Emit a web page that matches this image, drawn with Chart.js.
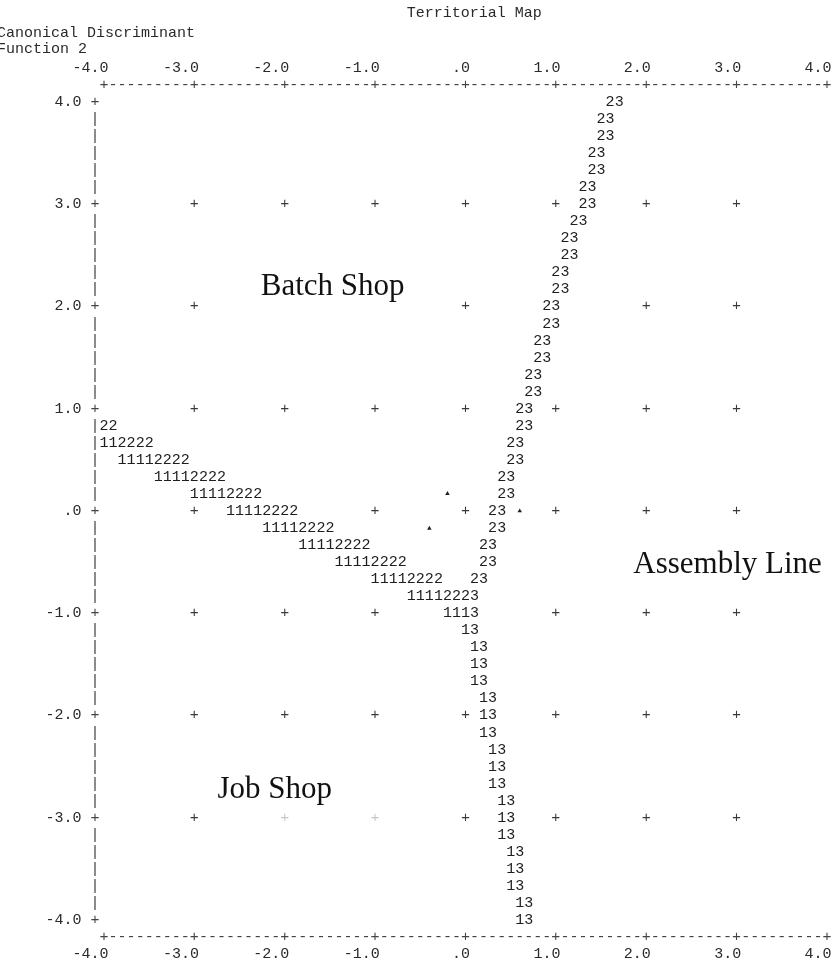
<!DOCTYPE html>
<html><head><meta charset="utf-8">
<script src="https://cdn.jsdelivr.net/npm/chart.js@4/dist/chart.umd.min.js"></script>
<style>html,body{margin:0;padding:0;background:#fff}#wrap{width:833px;height:964px;position:relative}</style>
</head><body><div id="wrap"><canvas id="c" width="833" height="964"></canvas></div>
<script>
const chartTitle = 'Territorial Map';
const yAxisTitle = ['Canonical Discriminant', 'Function 2'];
const xTickValues = [-4, -3, -2, -1, 0, 1, 2, 3, 4];
const xTickLabels = ['-4.0', '-3.0', '-2.0', '-1.0', '.0', '1.0', '2.0', '3.0', '4.0'];
const yTickValues = [4, 3, 2, 1, 0, -1, -2, -3, -4];
const yTickLabels = ['4.0', '3.0', '2.0', '1.0', '.0', '-1.0', '-2.0', '-3.0', '-4.0'];

// boundary group 2 (Batch Shop) / group 3 (Assembly Line): start of "23"
const boundary23 = [
  {x:1.6,y:4.00},{x:1.5,y:3.83},{x:1.5,y:3.67},{x:1.4,y:3.50},{x:1.4,y:3.33},
  {x:1.3,y:3.17},{x:1.3,y:3.00},{x:1.2,y:2.83},{x:1.1,y:2.67},{x:1.1,y:2.50},
  {x:1.0,y:2.33},{x:1.0,y:2.17},{x:0.9,y:2.00},{x:0.9,y:1.83},{x:0.8,y:1.67},
  {x:0.8,y:1.50},{x:0.7,y:1.33},{x:0.7,y:1.17},{x:0.6,y:1.00},{x:0.6,y:0.83},
  {x:0.5,y:0.67},{x:0.5,y:0.50},{x:0.4,y:0.33},{x:0.4,y:0.17},{x:0.3,y:0.00},
  {x:0.3,y:-0.17},{x:0.2,y:-0.33},{x:0.2,y:-0.50},{x:0.1,y:-0.67}
];
// boundary group 1 (Job Shop) / group 2 (Batch Shop): start of "11112222"
const boundary12 = [
  {x:-4.6,y:0.83},{x:-4.2,y:0.67},{x:-3.8,y:0.50},{x:-3.4,y:0.33},{x:-3.0,y:0.17},
  {x:-2.6,y:0.00},{x:-2.2,y:-0.17},{x:-1.8,y:-0.33},{x:-1.4,y:-0.50},{x:-1.0,y:-0.67}
];
// where the three territories meet
const junctionPoints = [{x:-0.6,y:-0.83},{x:-0.2,y:-1.00}];
const junctionCodes = ['11112223', '1113'];
// boundary group 1 (Job Shop) / group 3 (Assembly Line): start of "13"
const boundary13 = [
  {x:0.0,y:-1.17},{x:0.1,y:-1.33},{x:0.1,y:-1.50},{x:0.1,y:-1.67},{x:0.2,y:-1.83},
  {x:0.2,y:-2.00},{x:0.2,y:-2.17},{x:0.3,y:-2.33},{x:0.3,y:-2.50},{x:0.3,y:-2.67},
  {x:0.4,y:-2.83},{x:0.4,y:-3.00},{x:0.4,y:-3.17},{x:0.5,y:-3.33},{x:0.5,y:-3.50},
  {x:0.5,y:-3.67},{x:0.6,y:-3.83},{x:0.6,y:-4.00}
];
// group centroids
const centroids = [{x:-0.2,y:0.17},{x:0.6,y:0.00},{x:-0.4,y:-0.17}];
// territory names
const regionNames = ['Batch Shop', 'Assembly Line', 'Job Shop'];
const regionAnchors = [{x:-1.47,y:2.11},{x:2.90,y:-0.61},{x:-2.11,y:-2.81}];

// ---------- drawing ----------
const MONO = '15px "Liberation Mono", "Courier New", monospace';

const territoryPlugin = {
  id: 'territory',
  afterDatasetsDraw(chart) {
    const {ctx} = chart;
    const xs = chart.scales.x, ys = chart.scales.y;
    const colW = (xs.getPixelForValue(4) - xs.getPixelForValue(-4)) / 80;
    const px = col => xs.getPixelForValue(-4 + col / 10);
    const py = row => ys.getPixelForValue(4 - row / 6);
    const colOf = v => Math.round((v + 4) * 10);
    const rowOf = v => Math.round((4 - v) * 6);
    const occupied = new Set();
    ctx.save();
    ctx.font = MONO;
    ctx.textAlign = 'center';
    ctx.textBaseline = 'middle';

    // boundary strings
    chart.data.datasets.forEach(ds => {
      if (!ds.code && !ds.codes) return;
      ds.data.forEach((p, i) => {
        const s = ds.codes ? ds.codes[i] : ds.code;
        const c0 = colOf(p.x), r = rowOf(p.y);
        for (let k = 0; k < s.length; k++) {
          const c = c0 + k;
          if (c < 0) continue;
          occupied.add(c + ',' + r);
          ctx.fillStyle = '#1e1e1e';
          ctx.fillText(s[k], px(c), py(r));
        }
      });
    });

    // interior grid crosses
    ctx.fillStyle = '#3a3a3a';
    for (let xv = -3; xv <= 3; xv++) {
      for (let yv = -3; yv <= 3; yv++) {
        const c = colOf(xv), r = rowOf(yv);
        if (occupied.has(c + ',' + r)) continue;
        ctx.fillText('+', px(c), py(r));
      }
    }

    // top & bottom frame lines
    ctx.fillStyle = '#444';
    for (let c = 0; c <= 80; c++) {
      const ch = c % 10 === 0 ? '+' : '-';
      ctx.fillText(ch, px(c), py(-1));
      ctx.fillText(ch, px(c), py(49));
    }
    // left axis
    for (let r = 0; r <= 48; r++) {
      ctx.fillText(r % 6 === 0 ? '+' : '|', px(-1), py(r));
    }
    // tick labels
    ctx.fillStyle = '#2a2a2a';
    ctx.textAlign = 'right';
    xTickValues.forEach((v, i) => {
      const c = colOf(v);
      ctx.fillText(xTickLabels[i], px(c) + colW / 2, py(-2));
      ctx.fillText(xTickLabels[i], px(c) + colW / 2, py(50));
    });
    yTickValues.forEach((v, i) => {
      ctx.fillText(yTickLabels[i], px(-3) + colW / 2, py(rowOf(v)));
    });
    // titles
    ctx.textAlign = 'left';
    ctx.fillText(chartTitle, px(34) - colW / 2, 13);
    ctx.fillText(yAxisTitle[0], -3, 33);
    ctx.fillText(yAxisTitle[1], -3, 49);

    // territory names (pasted labels with white backing)
    const pads = [[12, 12, 32, 17, 1], [8, 8, 30, 12, 1], [12, 60, 30, 28, 0.72]];
    ctx.font = '31px "Liberation Serif", "Times New Roman", serif';
    ctx.textBaseline = 'alphabetic';
    ctx.textAlign = 'center';
    regionNames.forEach((name, i) => {
      const cx = xs.getPixelForValue(regionAnchors[i].x);
      const by = ys.getPixelForValue(regionAnchors[i].y);
      const w = ctx.measureText(name).width;
      const [pl, pr, pt, pb, a] = pads[i];
      ctx.fillStyle = 'rgba(255,255,255,' + a + ')';
      ctx.fillRect(cx - w / 2 - pl, by - pt, w + pl + pr, pt + pb);
      ctx.fillStyle = '#111';
      ctx.fillText(name, cx, by);
    });
    ctx.restore();
  }
};

new Chart(document.getElementById('c'), {
  type: 'scatter',
  data: {
    datasets: [
      {label: '2-3 boundary', data: boundary23, code: '23', pointRadius: 0},
      {label: '1-2 boundary', data: boundary12, code: '11112222', pointRadius: 0},
      {label: 'junction', data: junctionPoints, codes: junctionCodes, pointRadius: 0},
      {label: '1-3 boundary', data: boundary13, code: '13', pointRadius: 0},
      {label: 'Group centroids', data: centroids, pointStyle: 'triangle', pointRadius: 2.6,
       backgroundColor: '#222', borderColor: '#222', borderWidth: 0}
    ]
  },
  options: {
    responsive: false,
    animation: false,
    events: [],
    layout: {padding: {left: 104, right: 6, top: 102, bottom: 44}},
    plugins: {legend: {display: false}, tooltip: {enabled: false}, title: {display: false}},
    scales: {
      x: {type: 'linear', min: -4, max: 4, display: false},
      y: {type: 'linear', min: -4, max: 4, display: false}
    }
  },
  plugins: [territoryPlugin]
});
</script>
</body></html>
